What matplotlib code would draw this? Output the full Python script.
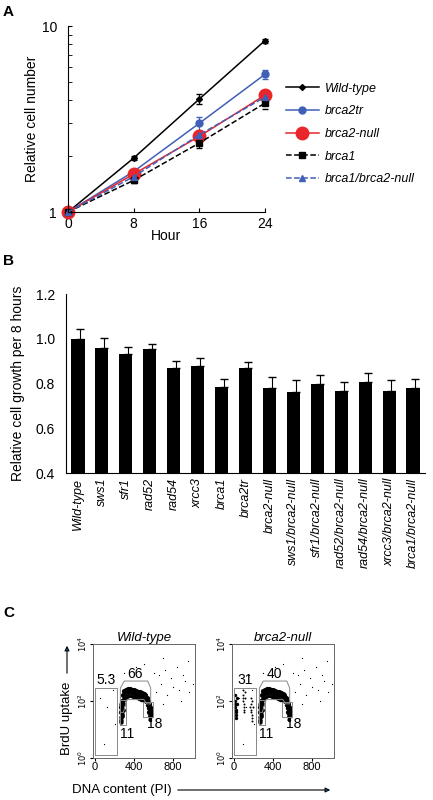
import matplotlib
matplotlib.use('Agg')
import matplotlib.pyplot as plt
import numpy as np

plt.rcParams['font.family'] = ['Liberation Sans', 'DejaVu Sans']

# ---- panel A data
hours = [0, 8, 16, 24]
a_names = ['Wild-type', 'brca2tr', 'brca2-null', 'brca1', 'brca1/brca2-null']
a_vals = [
    [1.0, 1.95, 4.05, 8.35],
    [1.0, 1.65, 3.0, 5.5],
    [1.0, 1.6, 2.55, 4.25],
    [1.0, 1.48, 2.35, 3.85],
    [1.0, 1.55, 2.6, 4.15],
]
a_errs = [
    [0.0, 0.05, 0.25, 0.2],
    [0.0, 0.05, 0.25, 0.3],
    [0.0, 0.05, 0.1, 0.2],
    [0.0, 0.04, 0.15, 0.25],
    [0.0, 0.04, 0.1, 0.2],
]

# ---- panel B data
b_names = ['Wild-type', 'sws1', 'sfr1', 'rad52', 'rad54', 'xrcc3', 'brca1', 'brca2tr',
           'brca2-null', 'sws1/brca2-null', 'sfr1/brca2-null', 'rad52/brca2-null',
           'rad54/brca2-null', 'xrcc3/brca2-null', 'brca1/brca2-null']
b_vals = [1.0, 0.96, 0.93, 0.955, 0.87, 0.88, 0.785, 0.87, 0.78, 0.76, 0.80, 0.765, 0.805, 0.765, 0.78]
b_errs = [0.045, 0.045, 0.035, 0.02, 0.03, 0.035, 0.035, 0.025, 0.05, 0.055, 0.04, 0.04, 0.04, 0.05, 0.04]

# ---- panel C data (PI, log10 BrdU), hand-picked cloud points
c_titles = ['Wild-type', 'brca2-null']
c_arc_x = [265, 270, 275, 285, 300, 320, 340, 360, 380, 400, 420, 440, 460, 480, 500, 515, 530, 540, 550, 555, 560, 560, 555]
c_arc_y = [1.6, 1.8, 2.0, 2.2, 2.35, 2.4, 2.42, 2.42, 2.4, 2.38, 2.35, 2.32, 2.3, 2.28, 2.25, 2.2, 2.1, 2.0, 1.9, 1.8, 1.75, 1.65, 1.6]
c_g1_x = [265, 270, 272, 275, 268, 262]
c_g1_y = [1.35, 1.45, 1.55, 1.7, 1.9, 1.25]
c_sub_x = [10, 20, 15, 25, 30, 12, 18, 22, 8, 28]
c_sub_y = [1.8, 1.6, 2.0, 1.4, 1.9, 2.2, 1.7, 1.5, 1.9, 2.1]
c_bg_x = [50, 120, 180, 90, 200, 620, 680, 740, 800, 860, 920, 960, 1000, 650, 720, 780, 840, 900, 700, 880, 420, 500, 600, 300, 150, 700, 950]
c_bg_y = [2.1, 1.8, 2.4, 0.5, 1.2, 2.3, 2.6, 2.2, 2.5, 2.4, 2.7, 2.3, 2.6, 2.9, 3.1, 2.8, 3.2, 2.9, 1.9, 2.0, 3.2, 3.3, 3.0, 3.0, 2.9, 3.5, 3.4]
c_gates = [
    {'sub': '5.3', 's': '66', 'g1': '11', 'g2': '18'},
    {'sub': '31', 's': '40', 'g1': '11', 'g2': '18'},
]

fig = plt.figure(figsize=(4.33, 8.0), dpi=100)
W, H = 433, 800

def px_axes(x0, y0, x1, y1):
    return fig.add_axes([x0 / W, 1 - y1 / H, (x1 - x0) / W, (y1 - y0) / H])

# ---------- A
ax = px_axes(68, 26, 265, 212)
styles = [
    dict(color='black', ls='-', marker='D', ms=3),
    dict(color='#4060b8', ls='-', marker='o', ms=5),
    dict(color='#e8262b', ls='-', marker='o', ms=9),
    dict(color='black', ls='--', marker='s', ms=5),
    dict(color='#4060b8', ls='--', marker='^', ms=5),
]
for name, v, e, st in zip(a_names, a_vals, a_errs, styles):
    ax.errorbar(hours, v, yerr=e, lw=1.1, capsize=2, elinewidth=0.8, **st)
    ax.plot([], [], label=name, lw=1.1, **st)
ax.set_yscale('log')
ax.set_ylim(1, 10)
ax.set_xlim(0, 24)
ax.set_yticks([1, 10])
ax.set_yticklabels(['1', '10'])
ax.yaxis.set_minor_formatter(matplotlib.ticker.NullFormatter())
ax.set_xticks(hours)
ax.spines['top'].set_visible(False)
ax.spines['right'].set_visible(False)
ax.tick_params(labelsize=10, length=3, direction='in', which='both')
ax.tick_params(axis='y', pad=8)
ax.set_xlabel('Hour', fontsize=10, labelpad=-1)
ax.set_ylabel('Relative cell number', fontsize=10, labelpad=2)
for line in ax.lines:
    line.set_clip_on(False)
ax.legend(loc='center left', bbox_to_anchor=(1.05, 0.42), frameon=False,
          prop={'style': 'italic', 'size': 9}, handlelength=2.6, handletextpad=0.5,
          labelspacing=0.85)
fig.text(3 / W, 1 - 12 / H, 'A', fontsize=11, fontweight='bold', va='center')

# ---------- B
ax = px_axes(66, 294, 425, 473)
xs = np.arange(len(b_names))
ax.bar(xs, b_vals, width=0.55, color='black')
ax.errorbar(xs + 0.1, b_vals, yerr=[np.zeros(len(b_errs)), b_errs], fmt='none',
            ecolor='black', capsize=3, elinewidth=0.8)
ax.set_ylim(0.4, 1.2)
ax.set_yticks([0.4, 0.6, 0.8, 1.0, 1.2])
ax.set_yticklabels(['0.4', '0.6', '0.8', '1.0', '1.2'])
ax.set_xlim(-0.5, len(b_names) - 0.5)
ax.set_xticks(xs)
ax.set_xticklabels(b_names, rotation=90, style='italic', fontsize=9)
ax.spines['top'].set_visible(False)
ax.spines['right'].set_visible(False)
ax.tick_params(axis='x', length=0)
ax.tick_params(axis='y', labelsize=10, length=0, pad=8)
ax.set_ylabel('Relative cell growth per 8 hours', fontsize=10, labelpad=8)
fig.text(3 / W, 1 - 261 / H, 'B', fontsize=11, fontweight='bold', va='center')

# ---------- C
fig.text(3 / W, 1 - 613 / H, 'C', fontsize=11, fontweight='bold', va='center')
for i, (x0, title, g) in enumerate(zip([93, 232], c_titles, c_gates)):
    ax = px_axes(x0, 644, x0 + 102, 758)
    ax.set_xlim(-20, 1023)
    ax.set_ylim(0, 4)
    ax.scatter(c_bg_x, c_bg_y, s=0.8, c='black', lw=0)
    ax.scatter(c_arc_x, c_arc_y, s=14, c='black', lw=0)
    ax.scatter([x + 12 for x in c_arc_x], [y - 0.12 for y in c_arc_y], s=12, c='black', lw=0)
    ax.scatter([x + 6 for x in c_arc_x], [y - 0.25 for y in c_arc_y], s=6, c='black', lw=0)
    ax.scatter(c_g1_x, c_g1_y, s=10, c='black', lw=0)
    if i == 1:
        ax.scatter(c_sub_x, c_sub_y, s=6, c='black', lw=0)
        ax.scatter([x + 80 for x in c_sub_x], [y + 0.2 for y in c_sub_y], s=2, c='black', lw=0)
        ax.scatter([x + 160 for x in c_sub_x], [y - 0.1 for y in c_sub_y], s=2, c='black', lw=0)
    gc = '#888888'
    ax.plot([0, 230, 230, 0, 0], [0.1, 0.1, 2.45, 2.45, 0.1], color=gc, lw=0.7)
    ax.plot([260, 260, 300, 540, 570, 570, 530, 500, 330, 290, 260],
            [1.6, 2.45, 2.7, 2.7, 2.45, 1.9, 1.9, 2.05, 2.05, 1.6, 1.6], color=gc, lw=0.7)
    ax.plot([255, 320, 320, 255, 255], [1.15, 1.15, 2.05, 2.05, 1.15], color=gc, lw=0.7)
    ax.plot([490, 590, 590, 490, 490], [1.45, 1.45, 1.95, 1.95, 1.45], color=gc, lw=0.7)
    ax.text(115, 2.6, g['sub'], fontsize=10, ha='center')
    ax.text(410, 2.8, g['s'], fontsize=10, ha='center')
    ax.text(330, 0.7, g['g1'], fontsize=10, ha='center')
    ax.text(610, 1.05, g['g2'], fontsize=10, ha='center')
    ax.set_title(title, style='italic', fontsize=9.5, pad=2)
    ax.set_xticks([0, 400, 800])
    ax.set_yticks([0, 2, 4])
    ax.set_yticklabels(['$10^0$', '$10^2$', '$10^4$'], rotation=90, va='center')
    ax.tick_params(labelsize=8, length=2, pad=1)
    ax.tick_params(axis='y', labelsize=6)
    for sp in ax.spines.values():
        sp.set_color('#666666')
        sp.set_linewidth(0.7)
fig.text(67 / W, 1 - 718 / H, 'BrdU uptake', rotation=90, fontsize=9.5, ha='center', va='center')
fig.add_artist(matplotlib.patches.FancyArrowPatch((67 / W, 1 - 676 / H), (67 / W, 1 - 643 / H),
               transform=fig.transFigure, arrowstyle='-|>', mutation_scale=7, lw=0.8))
fig.text(72 / W, 1 - 790 / H, 'DNA content (PI)', fontsize=9.5, va='center')
fig.add_artist(matplotlib.patches.FancyArrowPatch((175 / W, 1 - 790 / H), (333 / W, 1 - 790 / H),
               transform=fig.transFigure, arrowstyle='-|>', mutation_scale=7, lw=0.8))

fig.savefig('out.png', dpi=100)
